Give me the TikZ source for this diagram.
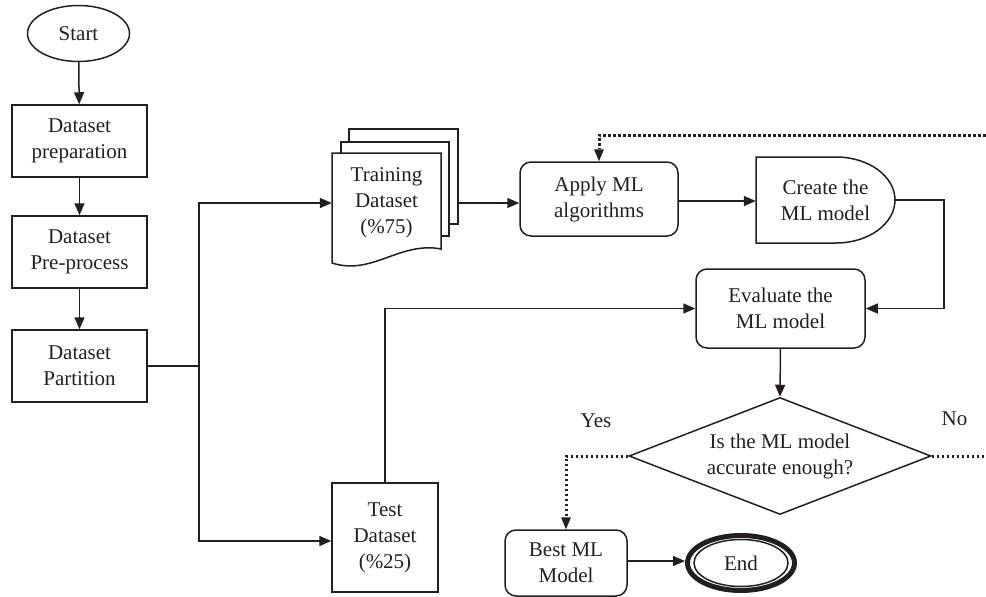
\documentclass[tikz,border=0pt]{standalone}
\usepackage{fontspec}
\setmainfont{Liberation Serif}
\usetikzlibrary{shapes.geometric,arrows.meta,calc}
\definecolor{ink}{HTML}{231F20}
\begin{document}
\begin{tikzpicture}[x=1pt,y=-1pt,
  every node/.style={font=\fontsize{21}{26}\selectfont, text=ink, align=center, inner sep=0pt},
  ln/.style={draw=ink, line width=1.5pt},
  arr/.style={ln, -{Triangle[length=12pt,width=10pt]}},
  dot/.style={draw=ink, line width=3pt, dash pattern=on 2.6pt off 2.4pt},
  darr/.style={dot, -{Triangle[length=12pt,width=10pt,line width=0pt]}},
  box/.style={ln, rectangle, minimum width=#1},
  rbox/.style={ln, rectangle, rounded corners=11pt},
]
\useasboundingbox (0,0) rectangle (986,597);

% left column
\node[ln, ellipse, minimum width=102, minimum height=56] (start) at (78.5,33.5) {Start};
\node[box=135, minimum height=72] (prep) at (79.5,141) {Dataset\\preparation};
\node[box=135, minimum height=72] (pre) at (79.5,252) {Dataset\\Pre-process};
\node[box=135, minimum height=72] (part) at (79.5,366) {Dataset\\Partition};
\draw[arr] (start) -- (prep);
\draw[arr] (prep) -- (pre);
\draw[arr] (pre) -- (part);

% training dataset (multi-document)
\filldraw[ln, fill=white] (349,129) rectangle (458,224);
\filldraw[ln, fill=white] (341,142) rectangle (449,236);
\filldraw[ln, fill=white] (332,153) -- (441,153) -- (441,249)
   .. controls (400,241) and (372,276) .. (332,263) -- cycle;
\node[minimum width=109, minimum height=100] (train) at (386.5,203) {Training\\Dataset\\(\%75)};
\coordinate (trainR) at (458,203);

% test dataset
\node[box=106, minimum height=109] (test) at (385,537.5) {Test\\Dataset\\(\%25)};

% split
\coordinate (sp) at (199,366);
\draw[ln] (part.east) -- (sp);
\draw[arr] (sp) |- (train.west);
\draw[arr] (sp) |- ([yshift=-3.5pt]test.west);

% apply / create
\node[rbox, minimum width=158, minimum height=74] (apply) at (599,199) {Apply ML\\algorithms};
\draw[arr] (trainR) -- (trainR -| apply.west);
\draw[ln, fill=white] (756,157) -- (836,157) arc[start angle=90, end angle=-90, x radius=59pt, y radius=43pt] -- (756,243) -- cycle;
\node[minimum width=139, minimum height=86] (create) at (825.5,200) {Create the\\ML model};
\draw[arr] ([yshift=-2pt]apply.east) -- ([yshift=-2pt]apply.east -| create.west);

% evaluate
\node[rbox, minimum width=169, minimum height=79] (eval) at (780.5,308.5) {Evaluate the\\ML model};
\draw[arr] (create.east) -- ++(49,0) |- (eval.east);
\draw[arr] (test.north) |- (eval.west);

% decision
\node[ln, diamond, aspect=2.58, minimum width=302, minimum height=117] (dec) at (780,456) {Is the ML model\\accurate enough?};
\draw[arr] (eval.south) -- (dec.north);
\node (yes) at (596,421) {Yes};
\node (no) at (954.5,419) {No};

% best / end
\node[rbox, minimum width=122, minimum height=66] (best) at (566,563) {Best ML\\Model};
\node[ln, ellipse, minimum width=94, minimum height=47] (endi) at (741,563) {End};
\node[draw=ink, line width=5pt, ellipse, minimum width=107, minimum height=55] (end) at (741,563) {};
\draw[arr] ([yshift=2pt]best.east) -- ([yshift=2pt]best.east -| end.west);

% dotted loops
\draw[darr] (dec.west) -| (best.north);
\coordinate (noR) at (986,456);
\draw[dot] (dec.east) -- (noR);
\coordinate (topR) at (986,135);
\draw[darr] (topR) -| (apply.north);
\end{tikzpicture}
\end{document}
